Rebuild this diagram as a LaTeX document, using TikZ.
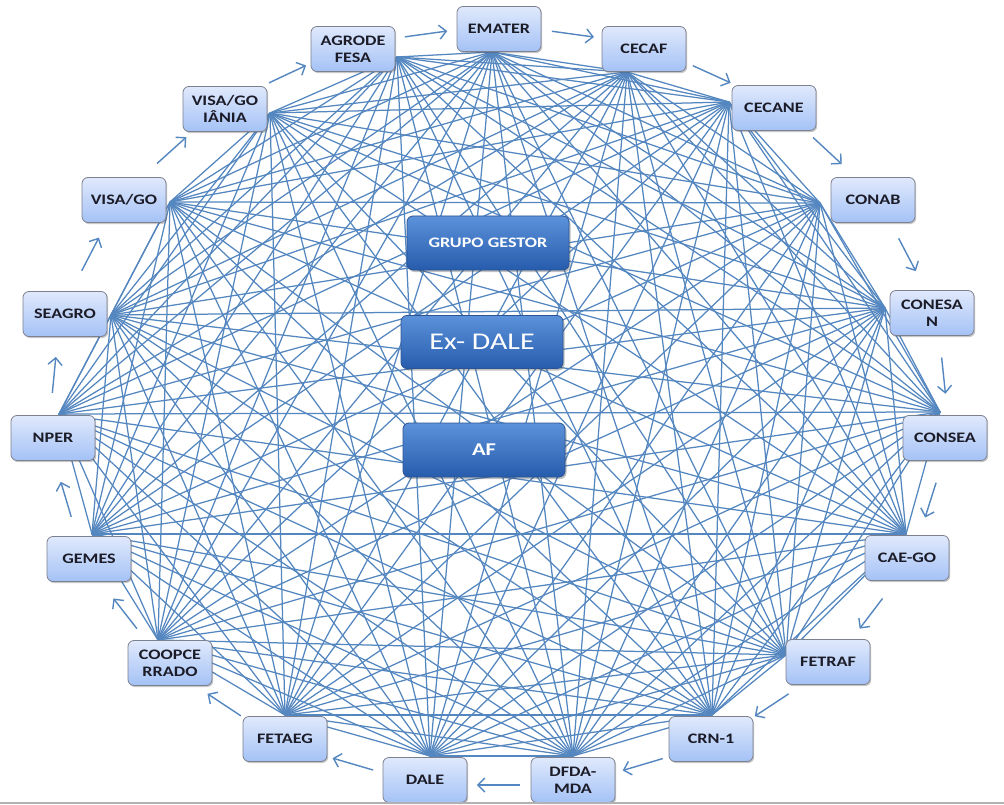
\documentclass[tikz,border=0pt]{standalone}
\usepackage{fontspec}
\newfontfamily\labfont[FakeStretch=1.25]{Carlito}
\usetikzlibrary{shadows,arrows.meta,calc}
\definecolor{netblue}{RGB}{84,134,192}
\definecolor{labtext}{RGB}{28,28,40}
\definecolor{boxedge}{RGB}{125,128,142}
\definecolor{boxtop}{RGB}{224,233,252}
\definecolor{boxbot}{RGB}{164,194,246}
\definecolor{ctop}{RGB}{92,146,218}
\definecolor{cbot}{RGB}{38,92,172}
\definecolor{cedge}{RGB}{44,84,148}
\newcommand\ringarrow[2]{\draw[flow] ($(#1)!0.36!(#2)!5pt!90:(#2)$) -- ($(#1)!0.65!(#2)!5pt!90:(#2)$);}
\begin{document}
\begin{tikzpicture}[x=1pt,y=-1pt,
  net/.style={draw=netblue, line width=1.25pt},
  flow/.style={draw=netblue, line width=1.4pt, -{Straight Barb[length=7pt,width=14pt]}},
  box/.style={draw=boxedge, line width=0.8pt, rounded corners=6pt,
    top color=boxtop, bottom color=boxbot,
    minimum width=84pt, minimum height=45pt, inner sep=0pt, align=center,
    font=\labfont\bfseries\fontsize{14.5}{17}\selectfont, text=labtext,
    drop shadow={shadow xshift=1.2pt, shadow yshift=-1.6pt, fill=black!70, opacity=0.3}},
  central/.style={draw=cedge, line width=0.8pt, rounded corners=6pt,
    top color=ctop, bottom color=cbot, text=white,
    minimum width=162pt, minimum height=54pt, inner sep=0pt,
    drop shadow={shadow xshift=1.5pt, shadow yshift=-2pt, fill=black!70, opacity=0.35}}]
\useasboundingbox (0,0) rectangle (1004,805);
\fill[white] (0,0) rectangle (1004,805);
% hubs where the connectors meet
\coordinate (h1) at (492,52);
\coordinate (h2) at (627,72);
\coordinate (h3) at (729,102);
\coordinate (h4) at (820,203);
\coordinate (h5) at (885,308);
\coordinate (h6) at (940,412);
\coordinate (h7) at (906,534);
\coordinate (h8) at (786,655);
\coordinate (h9) at (712,715);
\coordinate (h10) at (573,756);
\coordinate (h11) at (430,756);
\coordinate (h12) at (285,715);
\coordinate (h13) at (158,640);
\coordinate (h14) at (92,534);
\coordinate (h15) at (59,414);
\coordinate (h16) at (111,315);
\coordinate (h17) at (170,202);
\coordinate (h18) at (270,113);
\coordinate (h19) at (397,57);
\foreach \i in {1,...,18}{
  \pgfmathtruncatemacro\jstart{\i+1}
  \foreach \j in {\jstart,...,19}{
    \draw[net] (h\i) -- (h\j);
  }
}
% central boxes
\node[central, font=\labfont\bfseries\fontsize{14.5}{17}\selectfont] (GG) at (488,243) {GRUPO GESTOR};
\node[central, minimum width=162pt, minimum height=53pt, font=\labfont\fontsize{24}{28}\selectfont] (EXD) at (482,342) {Ex- DALE};
\node[central, font=\labfont\bfseries\fontsize{18}{20}\selectfont] (AF) at (484,450) {AF};
% ring nodes
\node[box] (EMA) at (499,29) {EMATER};
\node[box] (CECAF) at (644,49) {CECAF};
\node[box] (CECANE) at (774,108) {CECANE};
\node[box] (CONAB) at (873,200) {CONAB};
\node[box] (CONESAN) at (932,313) {CONESA\\N};
\node[box] (CONSEA) at (945,438) {CONSEA};
\node[box] (CAEGO) at (907,558) {CAE-GO};
\node[box] (FETRAF) at (828,662) {FETRAF};
\node[box] (CRN) at (711,739) {CRN-1};
\node[box] (DFDA) at (573,780) {DFDA-\\MDA};
\node[box] (DALE) at (425,780) {DALE};
\node[box] (FETAEG) at (285,739) {FETAEG};
\node[box] (COOP) at (170,663) {COOPCE\\RRADO};
\node[box] (GEMES) at (89,559) {GEMES};
\node[box] (NPER) at (53,438) {NPER};
\node[box] (SEAGRO) at (65,314) {SEAGRO};
\node[box] (VISAGO) at (124,200) {VISA/GO};
\node[box] (VISAGOI) at (225,109) {VISA/GO\\IÂNIA};
\node[box] (AGR) at (353,49) {AGRODE\\FESA};
% clockwise arrows
\ringarrow{AGR}{EMA}
\ringarrow{EMA}{CECAF}
\ringarrow{CECAF}{CECANE}
\ringarrow{CECANE}{CONAB}
\ringarrow{CONAB}{CONESAN}
\ringarrow{CONESAN}{CONSEA}
\ringarrow{CONSEA}{CAEGO}
\ringarrow{CAEGO}{FETRAF}
\ringarrow{FETRAF}{CRN}
\ringarrow{CRN}{DFDA}
\ringarrow{DFDA}{DALE}
\ringarrow{DALE}{FETAEG}
\ringarrow{FETAEG}{COOP}
\ringarrow{COOP}{GEMES}
\ringarrow{GEMES}{NPER}
\ringarrow{NPER}{SEAGRO}
\ringarrow{SEAGRO}{VISAGO}
\ringarrow{VISAGO}{VISAGOI}
\ringarrow{VISAGOI}{AGR}
% bottom edge of the picture
\draw[black!30, line width=1.4pt] (0,803) -- (1004,803);
\end{tikzpicture}
\end{document}
